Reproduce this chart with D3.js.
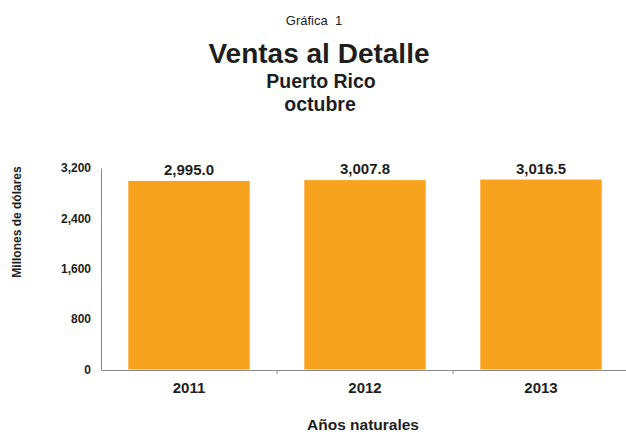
<!DOCTYPE html>
<html><head><meta charset="utf-8">
<script src="https://cdn.jsdelivr.net/npm/d3@7"></script>
<style>
body{margin:0;background:#fff;}
svg{display:block;font-family:"Liberation Sans",Arial,sans-serif;}
</style></head>
<body>
<svg id="c" width="626" height="432"></svg>
<script>
const years = ["2011", "2012", "2013"];
const ventas = [2995.0, 3007.8, 3016.5];
const yTicks = [0, 800, 1600, 2400, 3200];

const svg = d3.select("#c");
const txt = "#1e1e1e";

const x = d3.scaleBand().domain(years).range([101, 629]).paddingInner(0.31).paddingOuter(0.155);
const y = d3.scaleLinear().domain([0, 3200]).range([369.5, 168]);

// titles
svg.append("text").attr("x", 314).attr("y", 25).attr("text-anchor", "middle")
  .attr("font-size", 13).attr("fill", txt).text("Gráfica\u00a0 1");
svg.append("text").attr("x", 319).attr("y", 63).attr("text-anchor", "middle")
  .attr("font-size", 28).attr("font-weight", "bold").attr("fill", txt).text("Ventas al Detalle");
svg.append("text").attr("x", 321).attr("y", 88).attr("text-anchor", "middle")
  .attr("font-size", 19.5).attr("font-weight", "bold").attr("fill", txt).text("Puerto Rico");
svg.append("text").attr("x", 320).attr("y", 111).attr("text-anchor", "middle")
  .attr("font-size", 19.5).attr("font-weight", "bold").attr("fill", txt).text("octubre");

// bars
svg.selectAll("rect.bar").data(years).enter().append("rect")
  .attr("class", "bar")
  .attr("x", d => x(d))
  .attr("width", x.bandwidth())
  .attr("y", (d, i) => y(ventas[i]))
  .attr("height", (d, i) => y(0) - y(ventas[i]))
  .attr("fill", "#F6A21E");

// value labels
svg.selectAll("text.val").data(years).enter().append("text")
  .attr("class", "val")
  .attr("x", d => x(d) + x.bandwidth() / 2)
  .attr("y", (d, i) => y(ventas[i]) - 6)
  .attr("text-anchor", "middle").attr("font-size", 15).attr("font-weight", "bold").attr("fill", txt)
  .text((d, i) => d3.format(",.1f")(ventas[i]));

// y axis
const yAxis = d3.axisLeft(y).tickValues(yTicks).tickSize(0).tickPadding(10).tickFormat(d3.format(","));
const gy = svg.append("g").attr("transform", "translate(101,0)").call(yAxis);
gy.select(".domain").attr("stroke", "#8a8a8a");
gy.selectAll("text").attr("font-size", 12).attr("font-weight", "bold").attr("fill", txt)
  .attr("font-family", "Liberation Sans, Arial, sans-serif");

// x axis
const xAxis = d3.axisBottom(x).tickSize(0).tickPadding(12);
const gx = svg.append("g").attr("transform", "translate(0,370)").call(xAxis);
gx.select(".domain").attr("stroke", "#8a8a8a");
gx.selectAll("text").attr("font-size", 15).attr("font-weight", "bold").attr("fill", txt)
  .attr("font-family", "Liberation Sans, Arial, sans-serif");
// category boundary ticks
const bounds = years.slice(1).map(d => x(d) - x.step() * x.paddingInner() / 2);
gx.selectAll("line.bt").data(bounds).enter().append("line")
  .attr("class", "bt").attr("x1", d => d).attr("x2", d => d)
  .attr("y1", 0).attr("y2", 4).attr("stroke", "#8a8a8a");

// axis titles
svg.append("text").attr("transform", "translate(21,222) rotate(-90)")
  .attr("text-anchor", "middle").attr("font-size", 12).attr("font-weight", "bold").attr("fill", txt)
  .text("Millones de dólares");
svg.append("text").attr("x", 363).attr("y", 430).attr("text-anchor", "middle")
  .attr("font-size", 15.5).attr("font-weight", "bold").attr("fill", txt).text("Años naturales");
</script>
</body></html>
